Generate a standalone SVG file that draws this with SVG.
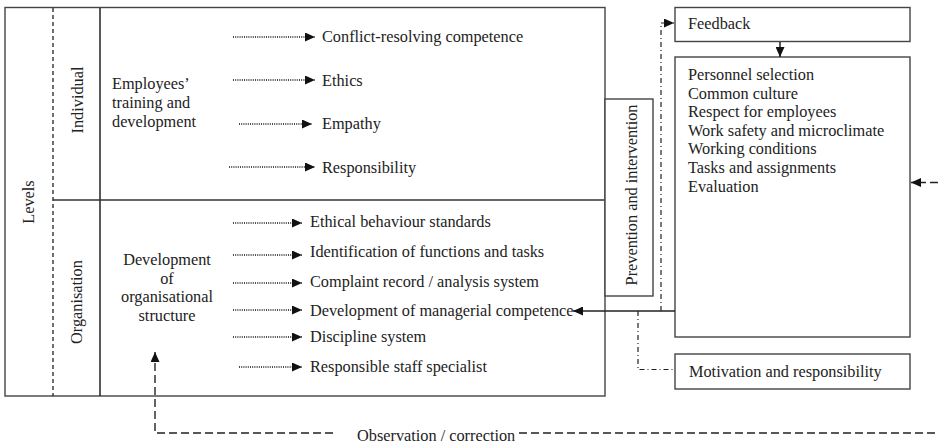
<svg xmlns="http://www.w3.org/2000/svg" width="938" height="444" viewBox="0 0 938 444">
<style>
text{font-family:"Liberation Serif","Times New Roman",serif;font-size:16.3px;fill:#222}
.box{fill:#fff;stroke:#444;stroke-width:1.4}
.solid{fill:none;stroke:#222;stroke-width:1.5}
.dot{fill:none;stroke:#111;stroke-width:1.3;stroke-dasharray:1 1.2}
.dash{fill:none;stroke:#222;stroke-width:1.3;stroke-dasharray:4 3}
.ldash{fill:none;stroke:#222;stroke-width:1.4;stroke-dasharray:8 4}
.dd{fill:none;stroke:#222;stroke-width:1.2;stroke-dasharray:5 3 1 3}
.mid{text-anchor:middle}
</style>
<defs>
<marker id="ah" markerUnits="userSpaceOnUse" markerWidth="10" markerHeight="9" refX="10" refY="4.5" orient="auto">
<path d="M0,0 L10,4.5 L0,9 z" fill="#111"/>
</marker>
</defs>

<g id="levels">
<rect class="box" x="5" y="7.5" width="600" height="388.5"/>
<line class="dash" x1="53" y1="8" x2="53" y2="396"/>
<line class="solid" x1="100" y1="8" x2="100" y2="396"/>
<line x1="53" y1="200" x2="605" y2="200" stroke="#333" stroke-width="1.4"/>
<text class="mid" transform="translate(34,202) rotate(-90)">Levels</text>
</g>

<g id="individual">
<text class="mid" transform="translate(83,100) rotate(-90)">Individual</text>
<text x="112" y="89">Employees’</text>
<text x="112" y="108">training and</text>
<text x="112" y="127">development</text>
<text x="322" y="42">Conflict-resolving competence</text>
<text x="322" y="86">Ethics</text>
<text x="322" y="129">Empathy</text>
<text x="322" y="173">Responsibility</text>
</g>

<g id="organisation">
<text class="mid" transform="translate(82,302) rotate(-90)">Organisation</text>
<text class="mid" x="167" y="265">Development</text>
<text class="mid" x="167" y="284">of</text>
<text class="mid" x="167" y="302">organisational</text>
<text class="mid" x="167" y="321">structure</text>
<text x="310" y="227">Ethical behaviour standards</text>
<text x="310" y="257">Identification of functions and tasks</text>
<text x="310" y="287">Complaint record / analysis system</text>
<text x="310" y="316">Development of managerial competence</text>
<text x="310" y="342">Discipline system</text>
<text x="310" y="372">Responsible staff specialist</text>
</g>

<g id="prevention">
<rect class="box" x="605" y="99" width="48" height="197"/>
<text class="mid" transform="translate(637,195) rotate(-90)">Prevention and intervention</text>
</g>

<g id="feedback">
<rect class="box" x="675" y="7.5" width="235" height="34"/>
<text x="688" y="29">Feedback</text>
</g>

<g id="measures">
<rect class="box" x="675" y="57" width="235" height="280"/>
<text x="688" y="80">Personnel selection</text>
<text x="688" y="98.6">Common culture</text>
<text x="688" y="117.2">Respect for employees</text>
<text x="688" y="135.8">Work safety and microclimate</text>
<text x="688" y="154.4">Working conditions</text>
<text x="688" y="173">Tasks and assignments</text>
<text x="688" y="191.6">Evaluation</text>
</g>

<g id="motivation">
<rect class="box" x="675" y="354" width="235" height="35"/>
<text x="689" y="377">Motivation and responsibility</text>
</g>

<g id="observation">
<text x="357" y="441">Observation / correction</text>
</g>

<g id="connectors">
<path class="dot" d="M233,37 H315" marker-end="url(#ah)"/>
<path class="dot" d="M233,80 H315" marker-end="url(#ah)"/>
<path class="dot" d="M239,124 H312" marker-end="url(#ah)"/>
<path class="dot" d="M229,167 H315" marker-end="url(#ah)"/>
<path class="dot" d="M233,223 H302" marker-end="url(#ah)"/>
<path class="dot" d="M233,255 H302" marker-end="url(#ah)"/>
<path class="dot" d="M233,283 H302" marker-end="url(#ah)"/>
<path class="dot" d="M233,310 H302" marker-end="url(#ah)"/>
<path class="dot" d="M233,337 H302" marker-end="url(#ah)"/>
<path class="dot" d="M239,367 H302" marker-end="url(#ah)"/>
<path class="solid" d="M780,42 V57" marker-end="url(#ah)"/>
<path class="solid" d="M675,311 H573" marker-end="url(#ah)"/>
<path class="dd" d="M661,311 V23 H674" marker-end="url(#ah)"/>
<path class="dd" d="M638,311 V369.5 H675"/>
<path class="ldash" d="M938,182.5 H911" marker-end="url(#ah)"/>
<path class="ldash" d="M333,433 H155 V352" marker-end="url(#ah)"/>
<path class="ldash" d="M519,433 H938"/>
</g>
</svg>
